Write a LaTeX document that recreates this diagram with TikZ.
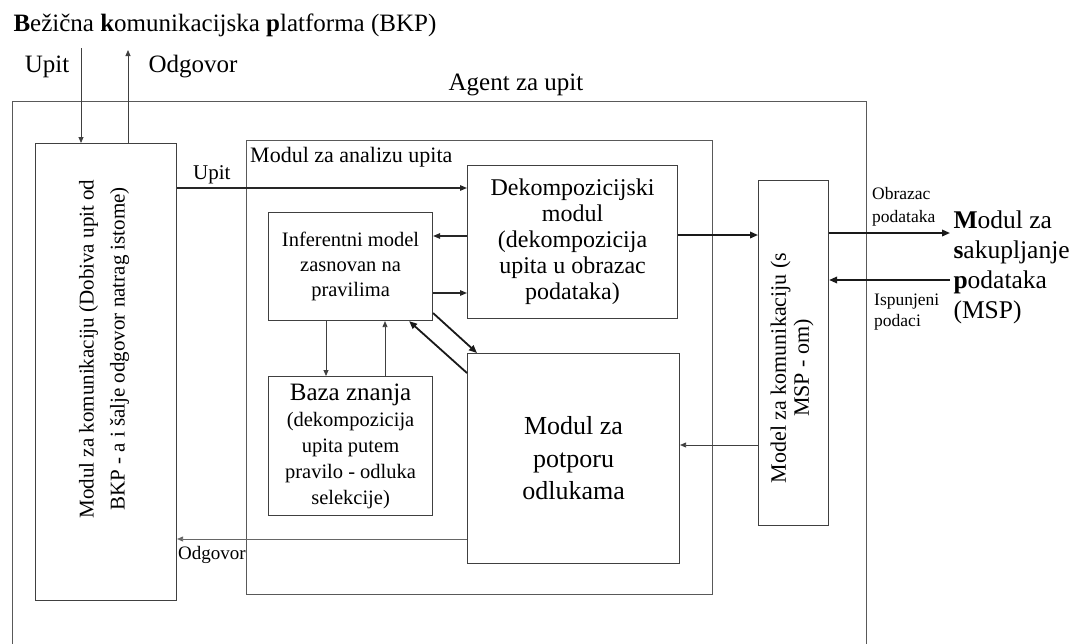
\documentclass[tikz,border=0pt]{standalone}
\usepackage{fontspec}
\setmainfont{Liberation Serif}
\usetikzlibrary{arrows.meta}

\newcommand{\fs}[2]{\fontsize{#1}{#2}\selectfont}

\tikzset{
	box/.style={draw=black!75, line width=1.1pt, anchor=north west, inner sep=0pt, align=center},
	thinarrow/.style={draw=black!75, line width=0.8pt, -{Triangle[length=6pt, width=5pt]}},
	midarrow/.style={draw=black!85, line width=1.3pt, -{Triangle[length=7pt, width=5.5pt]}},
	thickarrow/.style={draw=black!90, line width=1.8pt, -{Triangle[length=8pt, width=6.5pt]}},
	lbl/.style={inner sep=1pt, align=left}
}

\begin{document}
\begin{tikzpicture}[x=1pt, y=-1pt]
	\useasboundingbox (0,0) rectangle (1078,643);

	% platform and agent frame
	\node[anchor=west, font=\fs{25}{30}] (bkp) at (10,25)
		{\textbf{B}ežična \textbf{k}omunikacijska \textbf{p}latforma (BKP)};
	\node[box, draw=black!65, minimum width=854pt, minimum height=550pt] (agent) at (12,101) {};
	\node[font=\fs{25}{30}] (agentlbl) at (516,85) {Agent za upit};

	% communication with the platform
	\node[box, minimum width=141pt, minimum height=457pt] (bkpcomm) at (35,143) {};
	\node[rotate=90, align=center, font=\fs{21}{31}] (bkptext) at (104,349)
		{Modul za komunikaciju (Dobiva upit od\\BKP - a i šalje odgovor natrag istome)};
	\coordinate (bkpin) at (81,48);
	\coordinate (bkpout) at (128,50);
	\node[font=\fs{25}{30}] (upitin) at (47,67) {Upit};
	\node[anchor=west, font=\fs{25}{30}] (odgout) at (145,67) {Odgovor};

	% analysis module
	\node[box, draw=black!65, minimum width=466pt, minimum height=454pt] (analiza) at (246,140) {};
	\node[anchor=west, inner sep=0pt, font=\fs{22}{26}] (analizalbl) at (250,157) {Modul za analizu upita};
	\node[box, minimum width=210pt, minimum height=153pt, font=\fs{24}{26}] (dekomp) at (467,165)
		{Dekompozicijski\\modul\\(dekompozicija\\upita u obrazac\\podataka)};
	\node[box, minimum width=164pt, minimum height=108pt, font=\fs{20.5}{25}] (infer) at (268,212)
		{Inferentni model\\zasnovan na\\pravilima};
	\node[box, minimum width=164pt, minimum height=139pt, font=\fs{20.5}{26}] (baza) at (268,376)
		{{\fs{25}{28}Baza znanja}\\(dekompozicija\\upita putem\\pravilo - odluka\\selekcije)};
	\node[box, minimum width=212pt, minimum height=210pt, font=\fs{26}{32.5}] (odluke) at (467,353)
		{Modul za\\potporu\\odlukama};

	% communication with MSP
	\node[box, minimum width=70pt, minimum height=345pt] (mspcomm) at (758,180) {};
	\node[rotate=90, align=center, font=\fs{22}{23}] (msptext) at (792,368)
		{Model za komunikaciju (s\\MSP - om)};
	\node[anchor=west, align=left, font=\fs{25.5}{30}] (msp) at (950,267)
		{\textbf{M}odul za\\\textbf{s}akupljanje\\\textbf{p}odataka\\(MSP)};
	\node[lbl, anchor=west, font=\fs{17.5}{23}] (obrazac) at (871,207) {Obrazac\\podataka};
	\node[lbl, anchor=west, font=\fs{17.5}{21}] (ispunjeni) at (873,312) {Ispunjeni\\podaci};

	% connectors
	\draw[thinarrow] (bkpin) -- (bkpin |- bkpcomm.north);
	\draw[thinarrow] (bkpout |- bkpcomm.north) -- (bkpout);
	\draw[midarrow] (bkpcomm.east |- 0,188) -- (dekomp.west |- 0,188)
		node[pos=0.12, above, inner sep=3pt, font=\fs{21}{25}, black] (upitlbl) {Upit};
	\draw[midarrow] (dekomp.west |- 0,236) -- (infer.east |- 0,236);
	\draw[midarrow] (infer.east |- 0,293) -- (dekomp.west |- 0,293);
	\draw[thinarrow] (infer.south -| 326,0) -- (baza.north -| 326,0);
	\draw[thinarrow] (baza.north -| 385,0) -- (infer.south -| 385,0);
	\draw[thickarrow] ([yshift=8pt]infer.south east) -- ([xshift=10pt]odluke.north west);
	\draw[thickarrow] ([yshift=-20pt]odluke.north west) -- ([xshift=-24pt]infer.south east);
	\draw[thickarrow] (dekomp.east |- 0,235) -- (mspcomm.west |- 0,235);
	\draw[thickarrow] (mspcomm.east |- 0,233) -- (msp.west |- 0,233);
	\draw[thickarrow] (msp.west |- 0,280) -- (mspcomm.east |- 0,280);
	\draw[thinarrow] (mspcomm.west |- 0,445) -- (odluke.east |- 0,445);
	\draw[thinarrow, draw=black!60] (odluke.west |- 0,539) -- (bkpcomm.east |- 0,539)
		node[pos=0.88, below, inner sep=7pt, font=\fs{19}{22}, black] (odglbl) {Odgovor};
\end{tikzpicture}
\end{document}
